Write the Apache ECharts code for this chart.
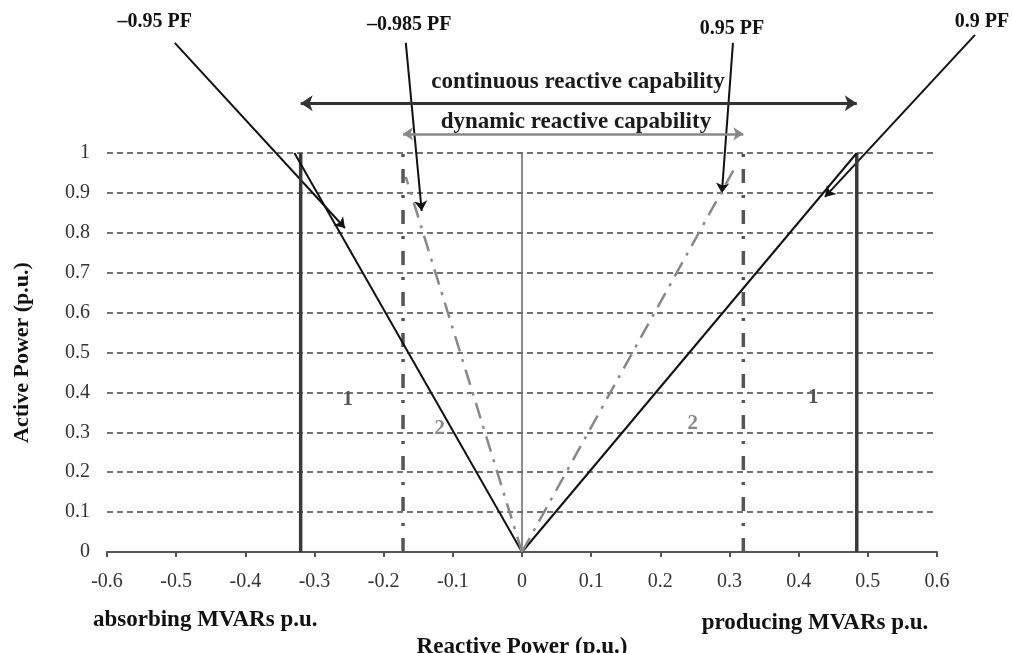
<!DOCTYPE html>
<html><head><meta charset="utf-8">
<script src="https://cdn.jsdelivr.net/npm/echarts@6/dist/echarts.min.js"></script>
<style>html,body{margin:0;padding:0;background:#fff}#c{width:1013px;height:653px}</style>
</head><body><div id="c"></div>
<script>
// axis ranges [min, max, step]
const xRange = [-0.6, 0.6, 0.1];
const yRange = [0, 1, 0.1];
// capability limits (x positions of vertical bars)
const continuousLimits = [-0.32, 0.484];
const dynamicLimits = [-0.172, 0.32];
// PF boundary lines from origin (end points)
const pfSolidEnds = [[-0.329, 1], [0.484, 1]];
const pfDashEnds = [[-0.168, 0.94], [0.31, 0.97]];
// PF annotations
const pfLabels = ['\u20130.95 PF', '\u20130.985 PF', '0.95 PF', '0.9 PF'];
const pfLabelPos = [[-0.531, 1.328], [-0.163, 1.321], [0.3036, 1.311], [0.665, 1.328]];
const pfArrowStart = [[-0.502, 1.276], [-0.168, 1.276], [0.305, 1.276], [0.655, 1.296]];
const pfArrowEnd = [[-0.256, 0.812], [-0.145, 0.855], [0.289, 0.90], [0.438, 0.89]];
// capability range arrows
const rangeArrowY = [1.125, 1.048];
const rangeLabels = ['continuous reactive capability', 'dynamic reactive capability'];
const rangeLabelPos = [[0.081, 1.177], [0.078, 1.077]];
// region markers
const regionLabels = ['1', '1', '2', '2'];
const regionPos = [[-0.252, 0.381], [0.421, 0.386], [-0.119, 0.31], [0.247, 0.323]];
const regionColors = ['#555', '#555', '#888', '#888'];
// side captions
const sideLabels = ['absorbing MVARs p.u.', 'producing MVARs p.u.'];
const sidePos = [[-0.458, -0.17], [0.4236, -0.178]];

const SERIF = '"Liberation Serif", "Times New Roman", serif';
const series = [];

continuousLimits.forEach(x => series.push({
  type: 'line', data: [[x, 0], [x, 1]], symbol: 'none', silent: true,
  lineStyle: { color: '#3a3a3a', width: 3.5 }
}));
dynamicLimits.forEach(x => series.push({
  type: 'line', data: [[x, 0], [x, 1]], symbol: 'none', silent: true,
  lineStyle: { color: '#555', width: 3.5, type: [14, 12, 3, 12] }
}));
series.push({
  type: 'line', data: [[0, 0], [0, 1]], symbol: 'none', silent: true,
  lineStyle: { color: '#666', width: 1.5 }
});
pfSolidEnds.forEach(e => series.push({
  type: 'line', data: [[0, 0], e], symbol: 'none', silent: true,
  lineStyle: { color: '#111', width: 2 }
}));
pfDashEnds.forEach(e => series.push({
  type: 'line', data: [[0, 0], e], symbol: 'none', silent: true,
  lineStyle: { color: '#888', width: 2.5, type: [16, 8, 3, 8] }
}));
// PF arrows
series.push({
  type: 'lines', coordinateSystem: 'cartesian2d', clip: false, silent: true,
  symbol: ['none', 'arrow'], symbolSize: 10,
  lineStyle: { color: '#111', width: 2, opacity: 1 },
  data: pfArrowStart.map((s, i) => ({ coords: [s, pfArrowEnd[i]] }))
});
// range arrows
series.push({
  type: 'lines', coordinateSystem: 'cartesian2d', clip: false, silent: true,
  symbol: ['arrow', 'arrow'], symbolSize: 12,
  lineStyle: { color: '#333', width: 3, opacity: 1 },
  data: [{ coords: [[continuousLimits[0], rangeArrowY[0]], [continuousLimits[1], rangeArrowY[0]]] }]
});
series.push({
  type: 'lines', coordinateSystem: 'cartesian2d', clip: false, silent: true,
  symbol: ['arrow', 'arrow'], symbolSize: 10,
  lineStyle: { color: '#888', width: 2.5, opacity: 1 },
  data: [{ coords: [[dynamicLimits[0], rangeArrowY[1]], [dynamicLimits[1], rangeArrowY[1]]] }]
});
// text annotations
function textSeries(names, pos, style, colors) {
  return {
    type: 'scatter', symbolSize: 0, clip: false, silent: true,
    itemStyle: { opacity: 1 },
    data: names.map((n, i) => ({
      name: n, value: pos[i],
      label: colors ? { color: colors[i] } : undefined
    })),
    label: Object.assign({ show: true, position: 'inside', formatter: p => p.name,
      fontFamily: SERIF, fontWeight: 'bold', color: '#111', opacity: 1 }, style)
  };
}
series.push(textSeries(pfLabels, pfLabelPos, { fontSize: 20 }));
series.push(textSeries(rangeLabels, rangeLabelPos, { fontSize: 23, color: '#1a1a1a' }));
series.push(textSeries(regionLabels, regionPos, { fontSize: 21 }, regionColors));
series.push(textSeries(sideLabels, sidePos, { fontSize: 23 }));

const option = {
  backgroundColor: '#fff',
  animation: false,
  grid: { left: 107, right: 76, top: 153, bottom: 101, outerBoundsMode: 'none', containLabel: false },
  xAxis: {
    type: 'value', min: xRange[0], max: xRange[1], interval: xRange[2],
    axisLine: { onZero: false, lineStyle: { color: '#555', width: 2 } },
    axisTick: { show: true, length: 5, lineStyle: { color: '#555', width: 2 } },
    axisLabel: { color: '#333', fontFamily: SERIF, fontSize: 20, margin: 20 },
    splitLine: { show: false },
    name: 'Reactive Power (p.u.)', nameLocation: 'middle', nameGap: 84,
    nameTextStyle: { fontFamily: SERIF, fontWeight: 'bold', fontSize: 23, color: '#111' }
  },
  yAxis: {
    type: 'value', min: yRange[0], max: yRange[1], interval: yRange[2],
    axisLine: { show: false, onZero: false },
    axisTick: { show: false },
    axisLabel: { color: '#333', fontFamily: SERIF, fontSize: 20, margin: 17 },
    splitLine: { show: true, lineStyle: { color: '#444', width: 1.5, type: [6, 4] } },
    name: 'Active Power (p.u.)', nameLocation: 'middle', nameGap: 74, nameRotate: 90,
    nameTextStyle: { fontFamily: SERIF, fontWeight: 'bold', fontSize: 22, color: '#111' }
  },
  series
};
const chart = echarts.init(document.getElementById('c'), null, { renderer: 'canvas' });
chart.setOption(option);
</script></body></html>
